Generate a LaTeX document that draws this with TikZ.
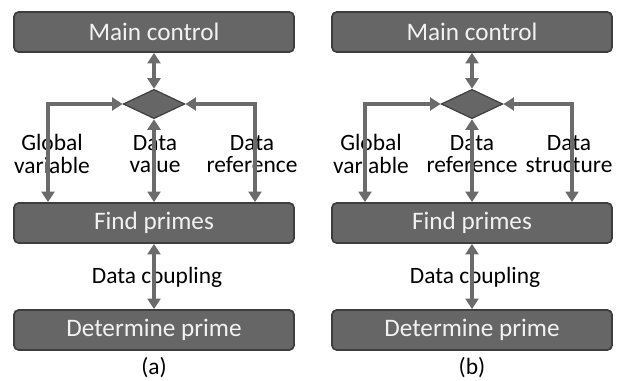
\documentclass[tikz,border=0pt]{standalone}
\usepackage{fontspec}
\setmainfont{Carlito}
\usetikzlibrary{shapes.geometric,arrows.meta}
\definecolor{boxgray}{HTML}{666666}
\definecolor{edgegray}{HTML}{3E3E3E}
\definecolor{linegray}{HTML}{6B6B6B}
\tikzset{
  module/.style={draw=edgegray, line width=1.5pt, fill=boxgray, rounded corners=4pt,
    minimum width=8.4cm, minimum height=1.2cm, text=white!95!black,
    font=\fontsize{21.5}{21.5}\selectfont},
  switch/.style={diamond, draw=edgegray, fill=boxgray, line width=1pt,
    minimum width=1.85cm, minimum height=0.88cm, inner sep=0pt},
  flow/.style={{Triangle[width=11pt,length=9pt]}-{Triangle[width=11pt,length=9pt]},
    draw=linegray, line width=3pt},
  tag/.style={align=center, font=\fontsize{20}{19.5}\selectfont}
}
\begin{document}
\begin{tikzpicture}[x=0.03cm,y=-0.03cm]
                \useasboundingbox (0,0) rectangle (618,380);
                % Panel (a)
                \node[module] (mainA) at (154,32) {Main control};
                \node[switch] (swA) at (154,104) {};
                \node[module] (findA) at (154,223) {Find primes};
                \node[module] (detA) at (154,330) {Determine prime};
                \node[tag] (capA) at (154,368) {(a)};
                \node[tag] (gvA) at (52,154) {Global\\variable};
                \node[tag] (dvA) at (155,154) {Data\\value};
                \node[tag] (drA) at (252,154) {Data\\reference};
                \node[tag] (dcA) at (157,277) {Data coupling};
                \coordinate (lA) at (48,104);
                \coordinate (rA) at (255,104);
                \draw[flow] (mainA) -- (swA);
                \draw[flow] (swA.west) -- (lA) -- (lA |- findA.north);
                \draw[flow] (swA.east) -- (rA) -- (rA |- findA.north);
                \draw[flow] (swA) -- (findA);
                \draw[flow] (findA) -- (detA);
                % Panel (b)
                \node[module] (mainB) at (472,32) {Main control};
                \node[switch] (swB) at (472,104) {};
                \node[module] (findB) at (472,223) {Find primes};
                \node[module] (detB) at (472,330) {Determine prime};
                \node[tag] (capB) at (472,368) {(b)};
                \node[tag] (gvB) at (371,154) {Global\\variable};
                \node[tag] (drB) at (472,154) {Data\\reference};
                \node[tag] (dsB) at (569,154) {Data\\structure};
                \node[tag] (dcB) at (475,277) {Data coupling};
                \coordinate (lB) at (365,104);
                \coordinate (rB) at (572,104);
                \draw[flow] (mainB) -- (swB);
                \draw[flow] (swB.west) -- (lB) -- (lB |- findB.north);
                \draw[flow] (swB.east) -- (rB) -- (rB |- findB.north);
                \draw[flow] (swB) -- (findB);
                \draw[flow] (findB) -- (detB);
            \end{tikzpicture}
\end{document}
